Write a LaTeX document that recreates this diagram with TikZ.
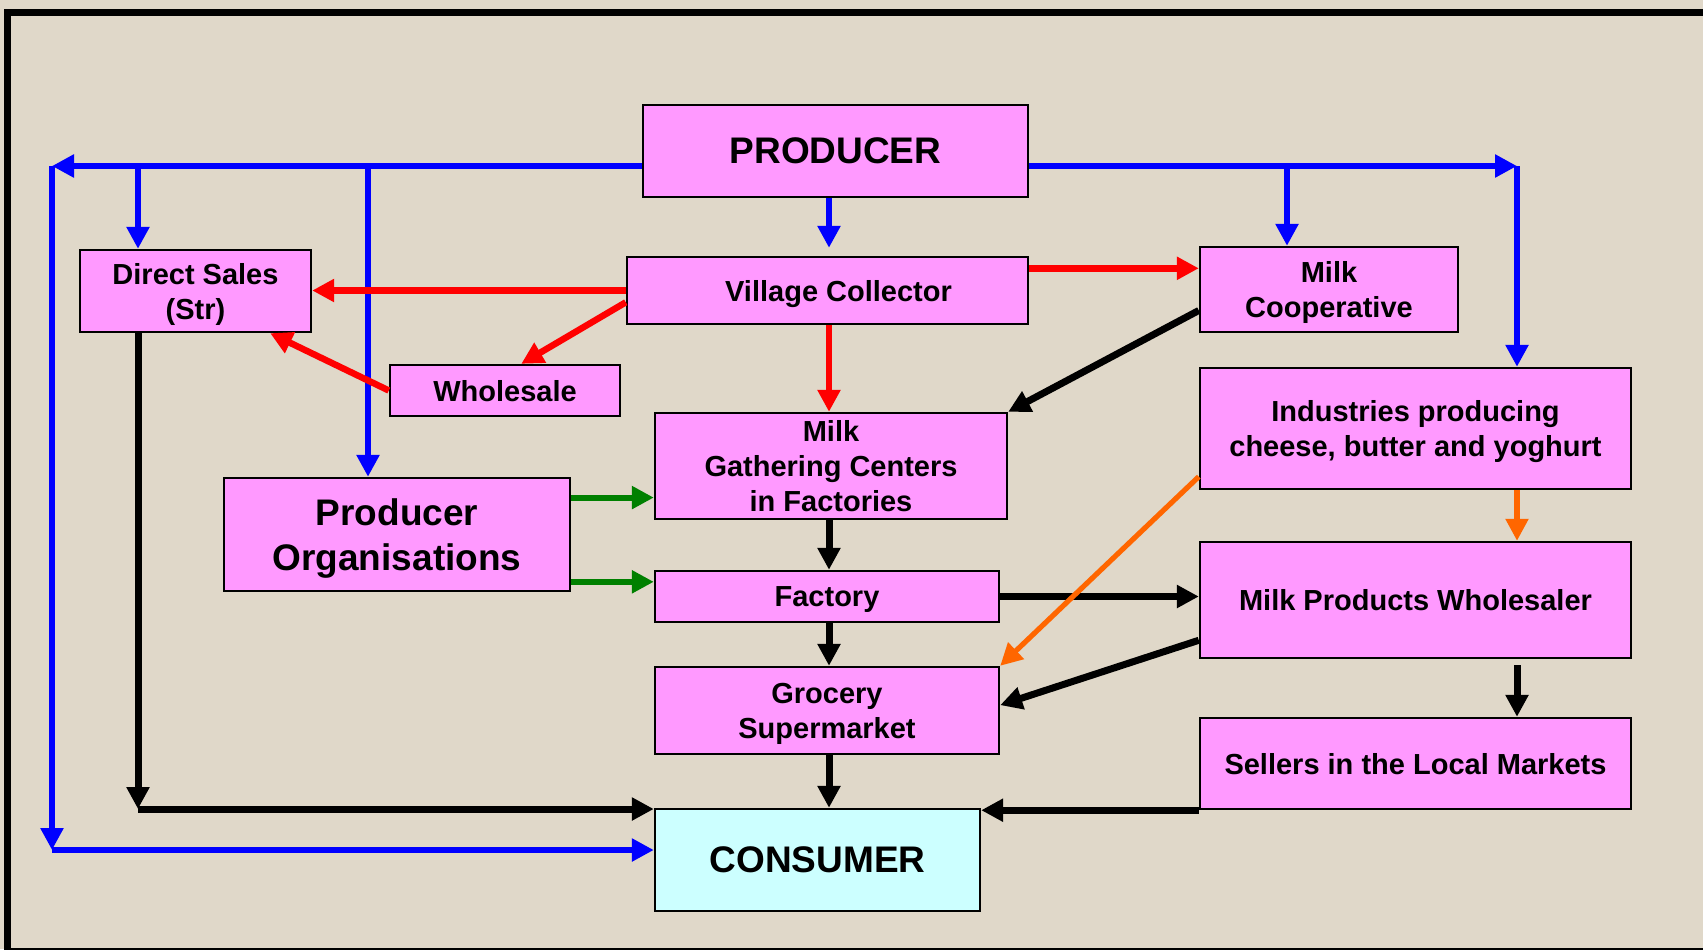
\documentclass[tikz,border=0pt]{standalone}
\usepackage{fontspec}
\setmainfont{Liberation Sans}
\usepackage{xcolor}
\definecolor{paper}{RGB}{224,216,201}
\definecolor{boxpink}{RGB}{255,153,255}
\definecolor{boxcyan}{RGB}{204,255,255}
\definecolor{flowblue}{RGB}{0,0,255}
\definecolor{flowred}{RGB}{255,0,0}
\definecolor{flowgreen}{RGB}{0,128,0}
\definecolor{floworange}{RGB}{255,102,0}
\usepackage{tikz}
\usetikzlibrary{positioning,calc}
\usetikzlibrary{arrows.meta}
\tikzset{>={Triangle[length=11pt,width=11pt]}}
\tikzset{
  stage/.style   ={ font=\bfseries\fontsize{14.5}{17.5}\selectfont, rectangle, draw=black, fill=boxpink,
                    line width=1.2pt, align=center, inner sep=0pt, text depth=0pt },
  bigstage/.style={ stage, font=\bfseries\fontsize{18.5}{22.8}\selectfont },
  endstage/.style={ bigstage, fill=boxcyan },
%
  bflow/.style={->, draw=flowblue, line width=3pt},
  rflow/.style={->, draw=flowred, line width=3.25pt},
  gflow/.style={->, draw=flowgreen, line width=3pt},
  oflow/.style={->, draw=floworange, line width=2.6pt},
  kflow/.style={->, draw=black, line width=3.5pt}
}

\begin{document}
\begin{tikzpicture}[x=0.5pt,y=-0.5pt]
        \useasboundingbox (0,0) rectangle (1703,949);
        \fill[paper] (0,0) rectangle (1703,949);
        \draw[line width=3.3pt] (7.5,12.5) rectangle (1730,951);
%
        \node[bigstage, minimum width=192.5pt, minimum height=46pt] (producer) at (835.5,151) {PRODUCER};
        \node[stage, minimum width=200.5pt, minimum height=33.5pt] (village) at (827.5,290.5) {\hspace*{11pt}Village Collector};
        \node[stage, minimum width=115.5pt, minimum height=41pt] (direct) at (195.5,291) {Direct Sales\\(Str)};
        \node[stage, minimum width=129pt, minimum height=42.5pt] (coop) at (1329,289.5) {Milk\\Cooperative};
        \node[stage, minimum width=115pt, minimum height=25.5pt] (wholesale) at (505,390.5) {Wholesale};
        \node[stage, minimum width=176pt, minimum height=53pt] (gathering) at (831,466) {Milk\\Gathering Centers\\in Factories};
        \node[stage, minimum width=215.5pt, minimum height=60.5pt] (industries) at (1415.5,428.5) {Industries producing\\cheese, butter and yoghurt};
        \node[bigstage, minimum width=173pt, minimum height=56.5pt] (prodorg) at (397,534.5) {Producer\\Organisations};
        \node[stage, minimum width=172pt, minimum height=25.5pt] (factory) at (827,596.5) {Factory};
        \node[stage, minimum width=215.5pt, minimum height=58pt] (mpw) at (1415.5,600) {Milk Products Wholesaler};
        \node[stage, minimum width=172pt, minimum height=43.5pt] (grocery) at (827,710.5) {Grocery\\Supermarket};
        \node[stage, minimum width=215.5pt, minimum height=45.5pt] (sellers) at (1415.5,763.5) {Sellers in the Local Markets};
        \node[endstage, minimum width=162.5pt, minimum height=51pt] (consumer) at (817.5,860) {CONSUMER};
%
        \coordinate (tl) at (52,166);
        \coordinate (tr) at (1517,166);
        \coordinate (bl) at (52,850);
        \coordinate (kb) at (138,809);
        \coordinate (po) at (368,166);
        \coordinate (mc) at (1287,166);
        \coordinate (mid) at (829,0);
        \coordinate (r1) at ($(village.north west)!0.67!(village.south west)$);
        \coordinate (r2) at ($(village.north east)!0.18!(village.south east)$);
        \coordinate (g1) at ($(prodorg.north east)!0.18!(prodorg.south east)$);
        \coordinate (g2) at ($(prodorg.north east)!0.91!(prodorg.south east)$);
%
        \draw[bflow] (producer.west |- tl) -- (tl);
        \draw[bflow] (producer.east |- tr) -- (tr);
        \draw[bflow] (tl) -- (bl);
        \draw[bflow] (bl) -- (bl -| consumer.west);
        \draw[bflow] (tr) -- (industries.north -| tr);
        \draw[bflow] (tl -| kb) -- (direct.north -| kb);
        \draw[bflow] (po) -- (prodorg.north -| po);
        \draw[bflow] (mc) -- (coop.north -| mc);
        \draw[bflow,shorten >=4pt] (producer.south -| mid) -- (village.north -| mid);
%
        \draw[rflow] (village.west) -- (village.west -| direct.east);
        \draw[rflow] (r1) -- ($(wholesale.north west)!0.57!(wholesale.north east)$);
        \draw[rflow] (wholesale.west) -- ($(direct.south west)!0.82!(direct.south east)$);
        \draw[rflow] (r2) -- (r2 -| coop.west);
        \draw[rflow] (village.south -| mid) -- (gathering.north -| mid);
%
        \draw[gflow] (g1) -- (g1 -| gathering.west);
        \draw[gflow] (g2) -- (g2 -| factory.west);
%
        \draw[kflow] ($(coop.north west)!0.74!(coop.south west)$) -- (gathering.north east);
        \draw[kflow] (gathering.south -| mid) -- (factory.north -| mid);
        \draw[kflow] (factory.south -| mid) -- (grocery.north -| mid);
        \draw[kflow] (grocery.south -| mid) -- (consumer.north -| mid);
        \draw[kflow] (factory.east) -- (factory.east -| mpw.west);
        \draw[kflow] ($(mpw.north west)!0.84!(mpw.south west)$) -- ($(grocery.north east)!0.44!(grocery.south east)$);
        \draw[kflow,shorten <=3pt] (mpw.south -| tr) -- (sellers.north -| tr);
        \draw[kflow] (sellers.south west) -- (sellers.south west -| consumer.east);
        \draw[kflow] (direct.south -| kb) -- (kb);
        \draw[kflow] (kb) -- (kb -| consumer.west);
%
        \draw[oflow] ($(industries.north west)!0.89!(industries.south west)$) -- (grocery.north east);
        \draw[oflow] (industries.south -| tr) -- (mpw.north -| tr);
      \end{tikzpicture}
\end{document}
